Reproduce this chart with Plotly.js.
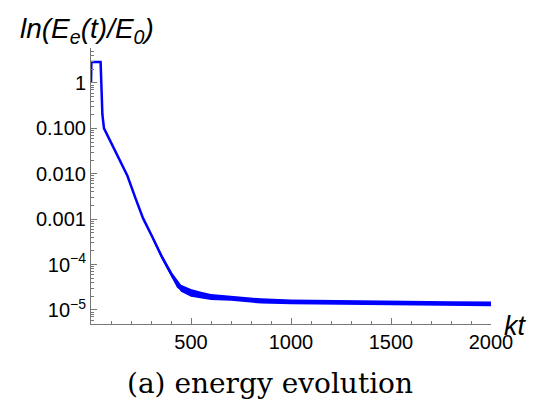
<!DOCTYPE html>
<html>
<head>
<meta charset="utf-8">
<script src="https://cdn.plot.ly/plotly-3.0.1.min.js"></script>
<style>html,body{margin:0;padding:0;background:#fff;}#chart{width:539px;height:406px;}</style>
</head>
<body>
<div id="chart"></div>
<script>
// main curve
var kt  = [0, 2, 48, 52, 57, 65, 120, 175, 182, 220, 260, 305, 355, 405, 435, 460, 500, 545, 600, 695, 845, 1000, 1200, 1400, 1600, 1800, 2000];
var energy = [1, 2.9, 2.9, 1.0, 0.2, 0.1, 0.032, 0.0105, 0.009, 0.0031, 0.00105, 0.00042, 0.000145, 0.000058, 0.000032, 0.000027, 0.000023, 0.000021, 0.000019, 0.000018, 0.0000155, 0.000015, 0.0000146, 0.0000143, 0.000014, 0.0000137, 0.0000135];
// noise band envelope
var bandKt = [305, 355, 405, 450, 500, 550, 600, 700, 850, 1000, 1200, 1400, 1600, 1800, 2000];
var bandHi = [4.6e-4, 1.65e-4, 6.7e-5, 3.6e-5, 2.9e-5, 2.5e-5, 2.25e-5, 2.05e-5, 1.8e-5, 1.7e-5, 1.65e-5, 1.62e-5, 1.58e-5, 1.55e-5, 1.53e-5];
var bandLo = [3.8e-4, 1.3e-4, 5.0e-5, 2.5e-5, 1.95e-5, 1.8e-5, 1.65e-5, 1.6e-5, 1.38e-5, 1.33e-5, 1.3e-5, 1.27e-5, 1.24e-5, 1.21e-5, 1.2e-5];
// ticks
var yTickVals = [1, 0.1, 0.01, 0.001, 1e-4, 1e-5];
var yTickText = ["1", "0.100", "0.010", "0.001", "10<sup>\u22124</sup>", "10<sup>\u22125</sup>"];
var xTickVals = [500, 1000, 1500, 2000];
var xTickText = ["500", "1000", "1500", "2000"];

var blue = "#0000ff";
var traces = [
  {x: bandKt, y: bandHi, mode: "lines", line: {width: 0, color: blue}, hoverinfo: "skip", showlegend: false},
  {x: bandKt, y: bandLo, mode: "lines", line: {width: 0, color: blue}, fill: "tonexty", fillcolor: blue, hoverinfo: "skip", showlegend: false},
  {x: kt, y: energy, mode: "lines", line: {width: 2.5, color: blue}, showlegend: false}
];

var tickFont = {family: "Liberation Sans, Arial, sans-serif", size: 20, color: "#000"};
var layout = {
  width: 539, height: 406,
  margin: {l: 91, r: 48, t: 48, b: 82},
  paper_bgcolor: "#fff", plot_bgcolor: "#fff",
  showlegend: false,
  xaxis: {
    range: [0, 2000], showgrid: false, zeroline: false,
    showline: true, linecolor: "#777", linewidth: 1,
    tickmode: "array", tickvals: xTickVals, ticktext: xTickText,
    ticks: "inside", ticklen: 6, tickcolor: "#777",
    minor: {dtick: 100, ticks: "inside", ticklen: 3, tickcolor: "#777", showgrid: false},
    tickfont: tickFont
  },
  yaxis: {
    type: "log", range: [-5.31, 0.77], showgrid: false, zeroline: false,
    showline: true, linecolor: "#777", linewidth: 1,
    tickmode: "array", tickvals: yTickVals, ticktext: yTickText,
    ticks: "inside", ticklen: 6, tickcolor: "#777",
    minor: {dtick: "D1", ticks: "inside", ticklen: 3, tickcolor: "#777", showgrid: false},
    tickfont: tickFont
  },
  annotations: [
    {text: "<i>ln(E<sub>e</sub>(t)/E<sub>0</sub>)</i>", xref: "paper", yref: "paper", x: -0.01, y: 1.062,
     xanchor: "center", yanchor: "middle", showarrow: false,
     font: {family: "Liberation Sans, Arial, sans-serif", size: 28, color: "#000"}},
    {text: "<i>kt</i>", xref: "paper", yref: "paper", x: 1.06, y: -0.007,
     xanchor: "center", yanchor: "middle", showarrow: false,
     font: {family: "Liberation Sans, Arial, sans-serif", size: 27, color: "#000"}},
    {text: "(a) energy evolution", xref: "paper", yref: "paper", x: 0.4475, y: -0.214,
     xanchor: "center", yanchor: "middle", showarrow: false,
     font: {family: "DejaVu Serif, serif", size: 28, color: "#000"}}
  ]
};
Plotly.newPlot("chart", traces, layout, {displayModeBar: false, staticPlot: true});
</script>
</body>
</html>
